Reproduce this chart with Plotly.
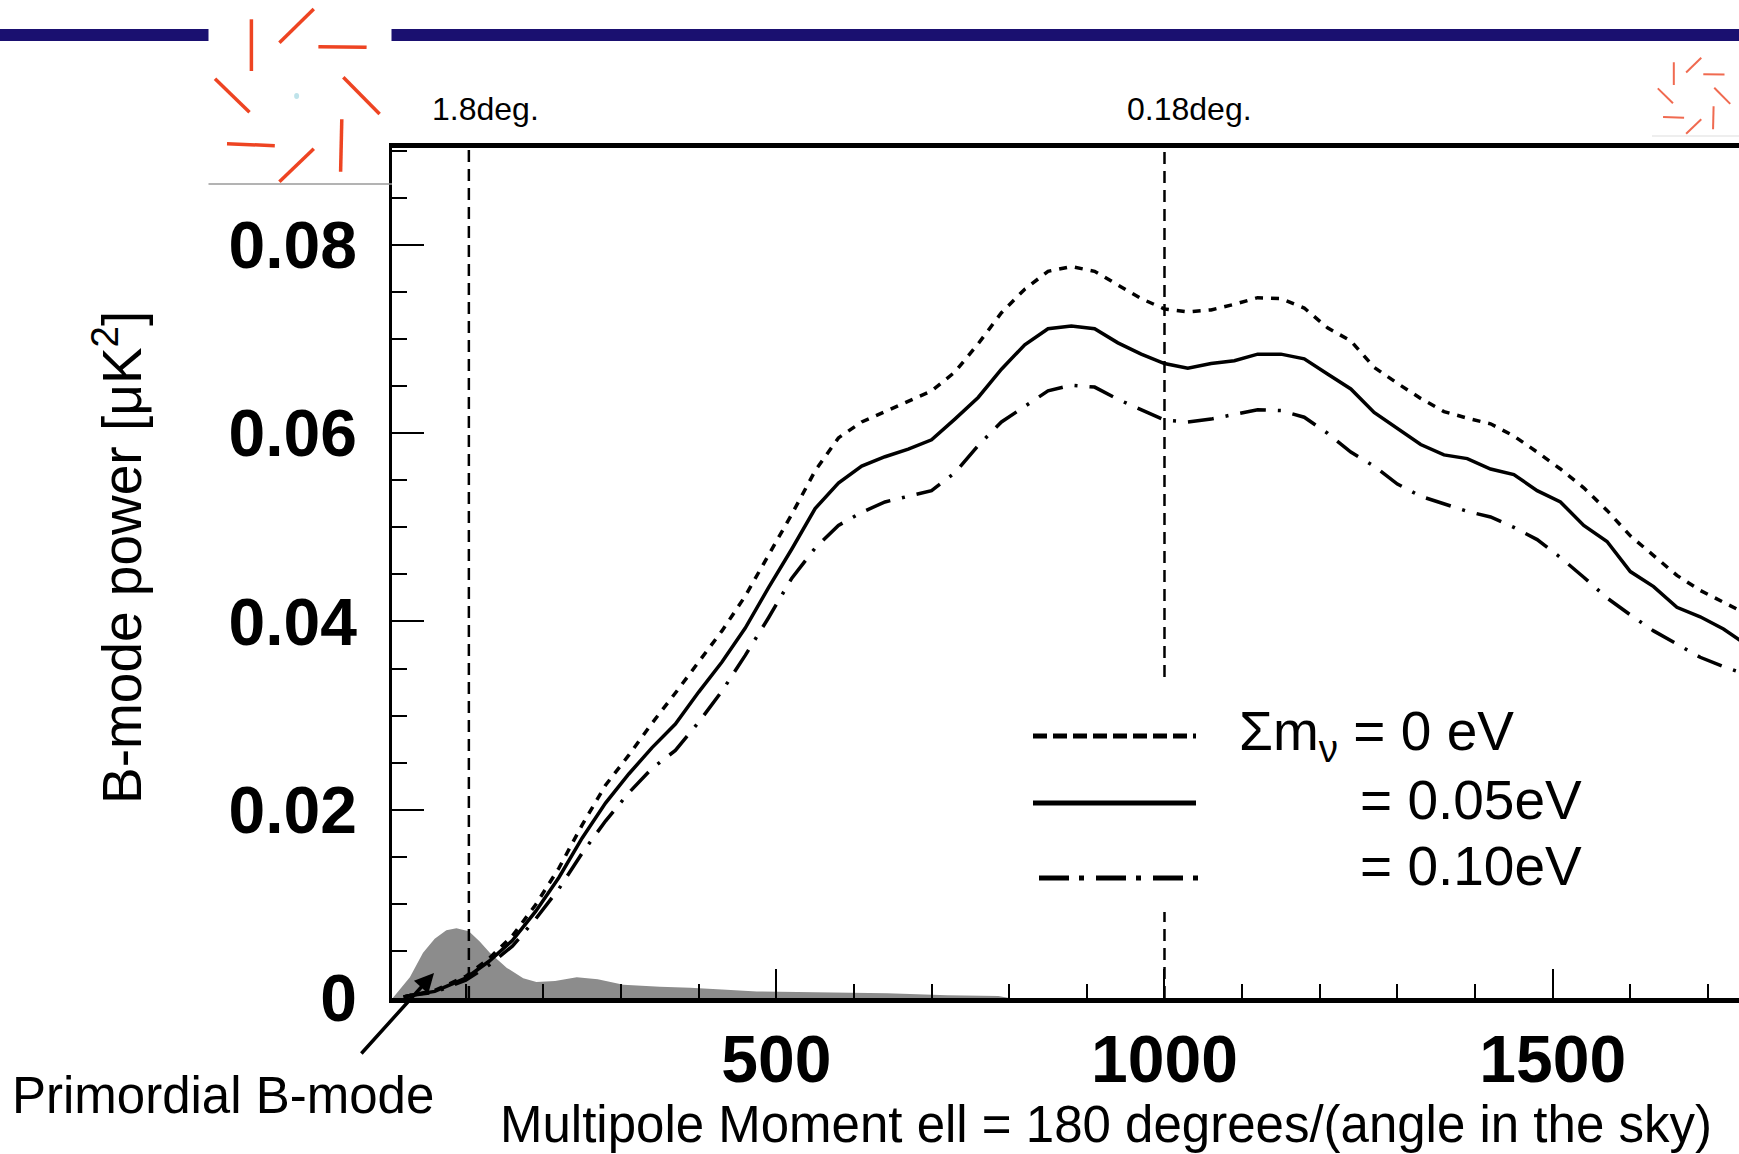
import plotly.graph_objects as go

# ---------------- data ----------------
ell = [20, 30, 60, 100, 130, 160, 190, 220, 250, 280, 310, 340, 370, 400, 430, 460, 490,
       520, 550, 580, 610, 640, 670, 700, 730, 760, 790, 820, 850, 880, 910, 940, 970,
       1000, 1030, 1060, 1090, 1120, 1150, 1180, 1210, 1240, 1270, 1300, 1330, 1360,
       1390, 1420, 1450, 1480, 1510, 1540, 1570, 1600, 1630, 1660, 1690, 1720, 1745]

cl_0eV = [0.0001, 0.0003, 0.0008, 0.0023, 0.0042, 0.0066, 0.0099, 0.0138, 0.0184, 0.0226,
          0.0258, 0.0292, 0.0324, 0.0357, 0.0390, 0.0427, 0.0470, 0.0514, 0.0560, 0.0595,
          0.0612, 0.0623, 0.0635, 0.0645, 0.0665, 0.0695, 0.0728, 0.0753, 0.0772, 0.0777,
          0.0772, 0.0758, 0.0743, 0.0732, 0.0729, 0.0731, 0.0737, 0.0744, 0.0743, 0.0733,
          0.0712, 0.0698, 0.0670, 0.0653, 0.0637, 0.0623, 0.0616, 0.0610, 0.0597, 0.0580,
          0.0562, 0.0542, 0.0518, 0.0491, 0.0470, 0.0449, 0.0433, 0.0420, 0.0410]

cl_005eV = [0.0001, 0.0003, 0.0007, 0.0021, 0.0039, 0.0061, 0.0092, 0.0128, 0.0170, 0.0207,
            0.0238, 0.0266, 0.0291, 0.0325, 0.0357, 0.0393, 0.0436, 0.0477, 0.0520, 0.0547,
            0.0565, 0.0575, 0.0583, 0.0593, 0.0615, 0.0638, 0.0668, 0.0694, 0.0711, 0.0714,
            0.0711, 0.0696, 0.0684, 0.0674, 0.0669, 0.0674, 0.0677, 0.0684, 0.0684, 0.0679,
            0.0663, 0.0647, 0.0622, 0.0605, 0.0588, 0.0577, 0.0573, 0.0562, 0.0556, 0.0539,
            0.0527, 0.0502, 0.0485, 0.0453, 0.0437, 0.0415, 0.0405, 0.0392, 0.0378]

cl_010eV = [0.0001, 0.0003, 0.0006, 0.0019, 0.0035, 0.0055, 0.0084, 0.0116, 0.0154, 0.0188,
            0.0218, 0.0244, 0.0263, 0.0293, 0.0326, 0.0364, 0.0404, 0.0446, 0.0478, 0.0502,
            0.0516, 0.0527, 0.0533, 0.0539, 0.0558, 0.0587, 0.0612, 0.0629, 0.0645, 0.0651,
            0.0649, 0.0636, 0.0625, 0.0614, 0.0612, 0.0615, 0.0620, 0.0625, 0.0624, 0.0617,
            0.0600, 0.0580, 0.0565, 0.0546, 0.0533, 0.0525, 0.0517, 0.0511, 0.0500, 0.0487,
            0.0468, 0.0447, 0.0425, 0.0407, 0.0390, 0.0376, 0.0362, 0.0352, 0.0345]

prim_ell = [6, 15, 28, 45, 60, 75, 88, 104, 118, 131, 153, 174, 191, 215, 243, 270, 303,
            350, 389, 430, 475, 550, 643, 720, 786, 800]
prim_cl = [0.0, 0.0009, 0.0022, 0.0048, 0.0063, 0.0072, 0.0074, 0.0071, 0.0060, 0.0048,
           0.0032, 0.0021, 0.0017, 0.0018, 0.0022, 0.0020, 0.0014, 0.0012, 0.0011, 0.0009,
           0.0007, 0.0006, 0.0005, 0.0003, 0.0002, 0.0]

angle_ell = [104, 1000]
angle_labels = ["1.8deg.", "0.18deg."]

x_ticks = [500, 1000, 1500]
y_ticks = [0, 0.02, 0.04, 0.06, 0.08]

legend_labels = ["Σm<sub>ν</sub> = 0 eV", "= 0.05eV", "= 0.10eV"]

# ---------------- layout geometry ----------------
W, H = 1739, 1154
L, R, T, B = 392, 0, 148, 156
FONT = "Liberation Sans, Arial, Helvetica, sans-serif"


def px(x):
    return (x - L) / (W - L - R)


def py(y):
    return (H - B - y) / (H - T - B)


fig = go.Figure()

# primordial B-mode (shaded)
fig.add_trace(go.Scatter(x=prim_ell, y=prim_cl, mode="lines", fill="tozeroy",
                         fillcolor="#8c8c8c", line=dict(width=0, color="#8c8c8c"),
                         showlegend=False, hoverinfo="skip"))

fig.add_trace(go.Scatter(x=ell, y=cl_0eV, mode="lines",
                         line=dict(color="black", width=3.5, dash="8px,8px"),
                         showlegend=False))
fig.add_trace(go.Scatter(x=ell, y=cl_005eV, mode="lines",
                         line=dict(color="black", width=3.5),
                         showlegend=False))
fig.add_trace(go.Scatter(x=ell, y=cl_010eV, mode="lines",
                         line=dict(color="black", width=3.5, dash="26px,12px,3px,12px"),
                         showlegend=False))

shapes = []
# vertical angle markers
shapes.append(dict(type="line", xref="x", yref="paper", x0=angle_ell[0], x1=angle_ell[0],
                   y0=0, y1=1, line=dict(color="black", width=2.5, dash="12px,7px")))
shapes.append(dict(type="line", xref="x", yref="paper", x0=angle_ell[1], x1=angle_ell[1],
                   y0=py(677), y1=1, line=dict(color="black", width=2.5, dash="12px,7px")))
shapes.append(dict(type="line", xref="x", yref="paper", x0=angle_ell[1], x1=angle_ell[1],
                   y0=0, y1=py(912), line=dict(color="black", width=2.5, dash="12px,7px")))

# legend samples
shapes.append(dict(type="line", xref="paper", yref="paper", x0=px(1033), x1=px(1196),
                   y0=py(736), y1=py(736), line=dict(color="black", width=5, dash="14px,6px")))
shapes.append(dict(type="line", xref="paper", yref="paper", x0=px(1033), x1=px(1196),
                   y0=py(803), y1=py(803), line=dict(color="black", width=5)))
shapes.append(dict(type="line", xref="paper", yref="paper", x0=px(1039), x1=px(1200),
                   y0=py(878), y1=py(878),
                   line=dict(color="black", width=5, dash="30px,10px,5px,12px")))

# slide header bar
NAVY = "#1a1070"
shapes.append(dict(type="rect", xref="paper", yref="paper", x0=px(0), x1=px(208.5),
                   y0=py(41), y1=py(29), fillcolor=NAVY, line=dict(width=0)))
shapes.append(dict(type="rect", xref="paper", yref="paper", x0=px(391.5), x1=px(W),
                   y0=py(41), y1=py(29), fillcolor=NAVY, line=dict(width=0)))

# logo pinwheels (decoration)
logo_segments = [
    ((251.4, 19.3), (251.4, 71.0)),
    ((279.4, 42.7), (313.8, 9.0)),
    ((318.4, 46.7), (366.6, 47.3)),
    ((343.3, 77.3), (379.6, 114.0)),
    ((341.8, 119.3), (340.6, 171.7)),
    ((313.8, 148.7), (279.4, 181.7)),
    ((227.0, 143.7), (274.8, 145.7)),
    ((215.0, 78.7), (249.5, 112.3)),
]
big_c = (296.6, 96.0)
small_c = (1693.7, 96.0)
small_s = 0.44
RED = "#ee4422"
for (a, b) in logo_segments:
    shapes.append(dict(type="line", xref="paper", yref="paper",
                       x0=px(a[0]), y0=py(a[1]), x1=px(b[0]), y1=py(b[1]),
                       line=dict(color=RED, width=3.5)))
    sa = (small_c[0] + (a[0] - big_c[0]) * small_s, small_c[1] + (a[1] - big_c[1]) * small_s)
    sb = (small_c[0] + (b[0] - big_c[0]) * small_s, small_c[1] + (b[1] - big_c[1]) * small_s)
    shapes.append(dict(type="line", xref="paper", yref="paper",
                       x0=px(sa[0]), y0=py(sa[1]), x1=px(sb[0]), y1=py(sb[1]),
                       line=dict(color="#f06a50", width=2)))
shapes.append(dict(type="circle", xref="paper", yref="paper",
                   x0=px(big_c[0] - 2.5), x1=px(big_c[0] + 2.5),
                   y0=py(big_c[1] + 3), y1=py(big_c[1] - 3),
                   fillcolor="#bfe3ea", line=dict(width=0)))
shapes.append(dict(type="line", xref="paper", yref="paper", x0=px(208.5), x1=px(392),
                   y0=py(184), y1=py(184), line=dict(color="#9a9a9a", width=1.5)))
shapes.append(dict(type="line", xref="paper", yref="paper", x0=px(1652), x1=px(W),
                   y0=py(136), y1=py(136), line=dict(color="#dddddd", width=1)))

annotations = []
for xv, lab in zip(angle_ell, angle_labels):
    annotations.append(dict(x=xv, y=py(109), xref="x", yref="paper", text=lab,
                            showarrow=False, xanchor="left", yanchor="middle", xshift=-39,
                            font=dict(family=FONT, size=32, color="black")))

legend_x = [1237, 1358, 1358]
legend_y = [735, 800, 866]
for lab, lx, ly in zip(legend_labels, legend_x, legend_y):
    annotations.append(dict(x=px(lx), y=py(ly), xref="paper", yref="paper", text=lab,
                            showarrow=False, xanchor="left", yanchor="middle",
                            font=dict(family=FONT, size=55, color="black")))

annotations.append(dict(x=px(1106), y=py(1124), xref="paper", yref="paper",
                        text="Multipole Moment ell = 180 degrees/(angle in the sky)",
                        showarrow=False, xanchor="center", yanchor="middle",
                        font=dict(family=FONT, size=51, color="black")))
annotations.append(dict(x=px(118), y=py(558), xref="paper", yref="paper",
                        text="B-mode power [μK<sup>2</sup>]", textangle=-90,
                        showarrow=False, xanchor="center", yanchor="middle",
                        font=dict(family=FONT, size=55, color="black")))
annotations.append(dict(x=px(223), y=py(1095), xref="paper", yref="paper",
                        text="Primordial B-mode",
                        showarrow=False, xanchor="center", yanchor="middle",
                        font=dict(family=FONT, size=51, color="black")))
# arrow pointing at primordial B-mode
annotations.append(dict(x=px(434), y=py(973), xref="paper", yref="paper", text="",
                        showarrow=True, ax=-74, ay=82, axref="pixel", ayref="pixel",
                        arrowhead=2, arrowsize=1.1, arrowwidth=3.5, arrowcolor="black"))

fig.update_layout(
    width=W, height=H,
    margin=dict(l=L, r=R, t=T, b=B, pad=0),
    paper_bgcolor="white", plot_bgcolor="white",
    showlegend=False,
    shapes=shapes, annotations=annotations,
    xaxis=dict(range=[5, 1740], tickvals=x_ticks, ticks="inside", ticklen=29, tickwidth=2,
               tickcolor="black", showgrid=False, zeroline=False,
               showline=True, linecolor="black", linewidth=4.5, mirror=True,
               ticklabelstandoff=0,
               tickfont=dict(family=FONT, size=66, color="black", weight="bold"),
               minor=dict(dtick=100, tick0=0, ticks="inside", ticklen=14, tickwidth=2,
                          tickcolor="black", showgrid=False)),
    yaxis=dict(range=[0, 0.0903], tickvals=y_ticks, ticktext=["0", "0.02", "0.04", "0.06", "0.08"],
               ticks="inside", ticklen=32, tickwidth=2,
               tickcolor="black", showgrid=False, zeroline=False,
               showline=True, linecolor="black", linewidth=2.5,
               ticklabelstandoff=19,
               tickfont=dict(family=FONT, size=66, color="black", weight="bold"),
               minor=dict(dtick=0.005, tick0=0, ticks="inside", ticklen=15, tickwidth=2,
                          tickcolor="black", showgrid=False)),
)

fig.write_html("out.html")
